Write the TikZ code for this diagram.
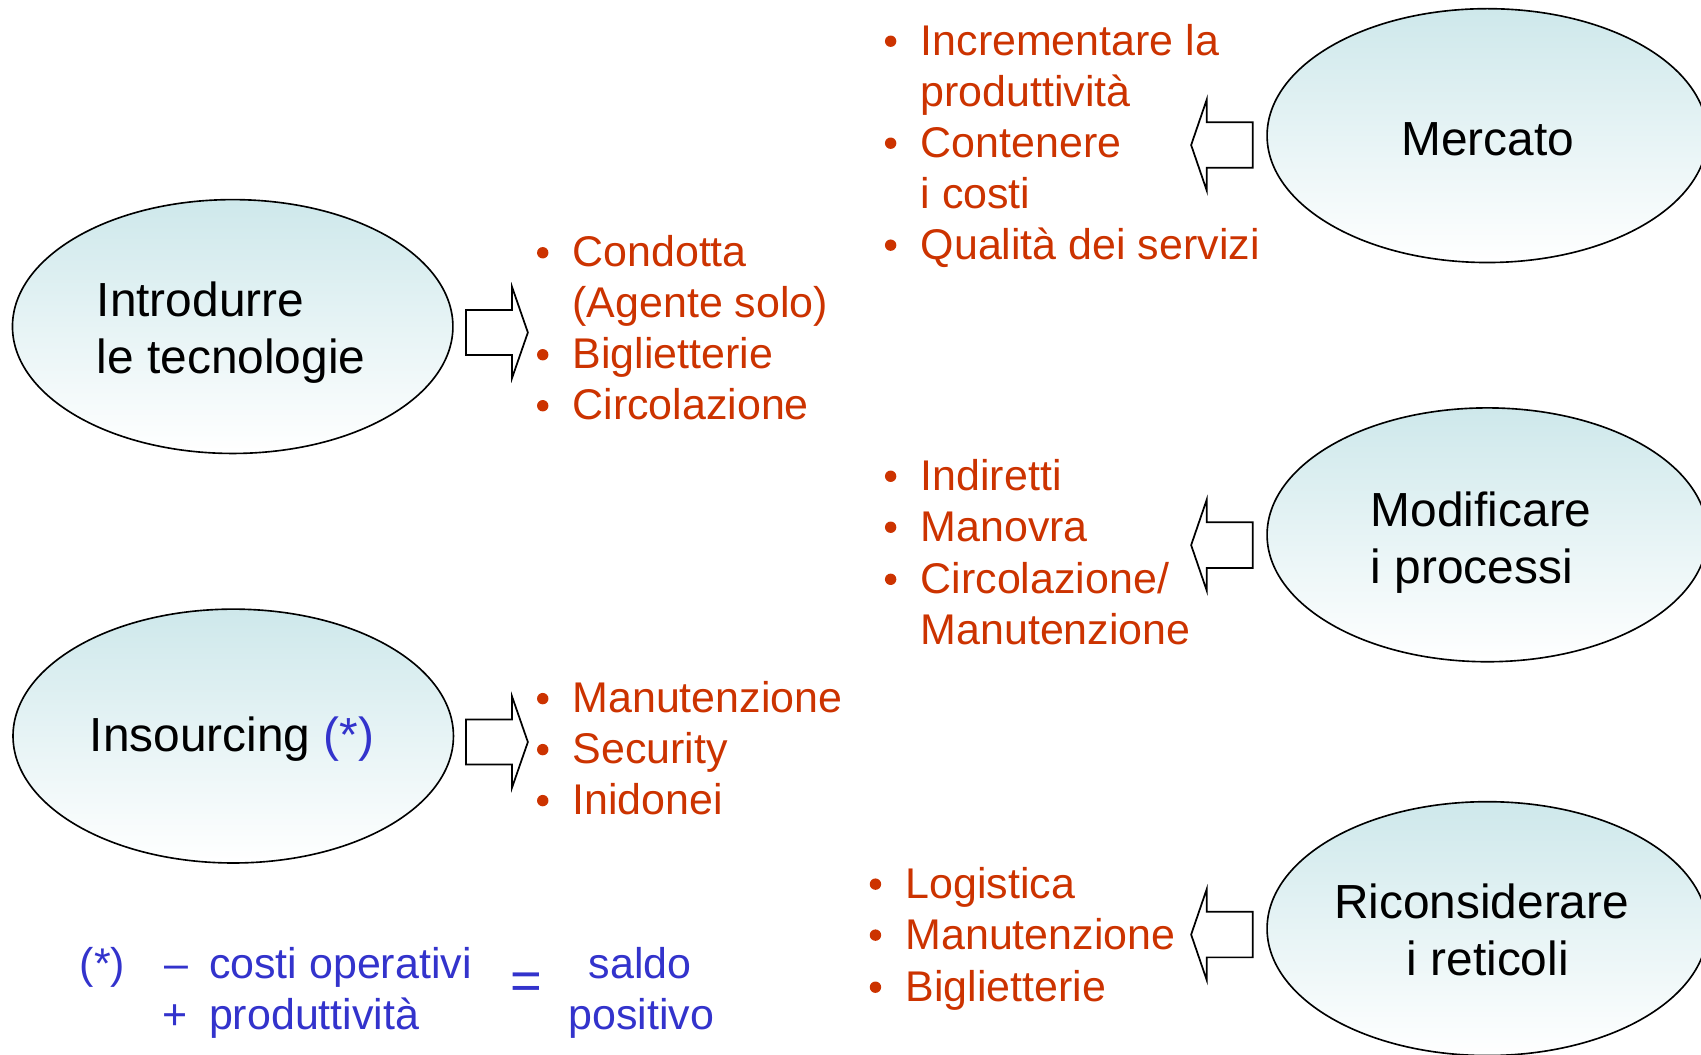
\documentclass[tikz,border=0pt]{standalone}
\usepackage{fontspec}
\setmainfont{Liberation Sans}
\usetikzlibrary{shapes.geometric}
\definecolor{rd}{RGB}{204,51,0}
\definecolor{bl}{RGB}{51,51,204}
\definecolor{ellfill}{RGB}{206,232,235}
\tikzset{
  oval/.style={ellipse, draw=black, line width=1.5pt, minimum width=406pt, minimum height=234pt, inner sep=0pt, top color=ellfill, bottom color=white},
  big/.style={font=\fontsize{44.1}{52.6}\selectfont, inner sep=0pt, anchor=base west},
  item/.style={font=\fontsize{39.6}{47}\selectfont, text=rd, inner sep=0pt, anchor=base west},
  dot/.style={circle, fill=rd, inner sep=0pt, minimum size=10.5pt},
  blk/.style={draw=black, line width=1.6pt, fill=white, line join=miter},
  formula/.style={font=\fontsize{39.6}{47}\selectfont, text=bl, inner sep=0pt},
  rarrow/.pic={\draw[blk] (0,-20.75) -- (42.4,-20.75) -- (42.4,-42) -- (57,0) -- (42.4,42) -- (42.4,20.75) -- (0,20.75) -- cycle;},
  larrow/.pic={\draw[blk] (0,0) -- (14.4,-42) -- (14.4,-21) -- (56.8,-21) -- (56.8,21) -- (14.4,21) -- (14.4,42) -- cycle;}
}
\begin{document}
\begin{tikzpicture}[x=1pt,y=-1pt]
\useasboundingbox[fill=white] (0,0) rectangle (1568,972);

% ellipses
\node[oval] (tec) at (214.5,301) {};
\node[oval] (ins) at (215,678.5) {};
\node[oval] (mer) at (1371,125) {};
\node[oval] (mod) at (1371,493) {};
\node[oval] (ric) at (1371,856) {};

% ellipse texts
\node[big] (tecA) at (89,292) {Introdurre};
\node[big] (tecB) at (89,344.6) {le tecnologie};
\node[big] (insA) at (82.5,693) {Insourcing {\color{bl}(*)}};
\node[big] (merA) at (1291.5,143) {Mercato};
\node[big] (modA) at (1263.5,485) {Modificare};
\node[big] (modB) at (1263.5,537.6) {i processi};
\node[big] (ricA) at (1229.5,847) {Riconsiderare};
\node[big] (ricB) at (1296.5,899.3) {i reticoli};

% block arrows
\pic at (429.6,306.5) {rarrow};
\pic at (429.6,684) {rarrow};
\pic at (1098,133.7) {larrow};
\pic at (1098,502.5) {larrow};
\pic at (1098,861.5) {larrow};

% list A
\node[dot] (a1d) at (500.3,233) {};
\node[item] (a1) at (527.5,246) {Condotta};
\node[item] (a2) at (527.5,293) {(Agente solo)};
\node[dot] (a3d) at (500.3,327) {};
\node[item] (a3) at (527.5,340) {Biglietterie};
\node[dot] (a4d) at (500.3,374) {};
\node[item] (a4) at (527.5,387) {Circolazione};

% list B
\node[dot] (b1d) at (821,38) {};
\node[item] (b1) at (848.5,51) {Incrementare la};
\node[item] (b2) at (848.5,98) {produttività};
\node[dot] (b3d) at (821,132) {};
\node[item] (b3) at (848.5,145) {Contenere};
\node[item] (b4) at (848.5,192) {i costi};
\node[dot] (b5d) at (821,226) {};
\node[item] (b5) at (848.5,239) {Qualità dei servizi};

% list C
\node[dot] (c1d) at (821,439) {};
\node[item] (c1) at (848.5,452) {Indiretti};
\node[dot] (c2d) at (821,486) {};
\node[item] (c2) at (848.5,499) {Manovra};
\node[dot] (c3d) at (821,534) {};
\node[item] (c3) at (848.5,547) {Circolazione/};
\node[item] (c4) at (848.5,594) {Manutenzione};

% list D
\node[dot] (d1d) at (500.3,644) {};
\node[item] (d1) at (527.5,657) {Manutenzione};
\node[dot] (d2d) at (500.3,691) {};
\node[item] (d2) at (527.5,704) {Security};
\node[dot] (d3d) at (500.3,738) {};
\node[item] (d3) at (527.5,751) {Inidonei};

% list E
\node[dot] (e1d) at (807,815) {};
\node[item] (e1) at (834.5,828) {Logistica};
\node[dot] (e2d) at (807,862) {};
\node[item] (e2) at (834.5,875) {Manutenzione};
\node[dot] (e3d) at (807,910) {};
\node[item] (e3) at (834.5,923) {Biglietterie};

% formula
\node[formula, anchor=base west] (ast) at (73.5,902) {(*)};
\node[formula, anchor=base west] (minus) at (151,902) {–};
\node[formula, anchor=base west] (f1) at (192.5,902) {costi operativi};
\node[formula, anchor=base west] (plus) at (149.5,949) {+};
\node[formula, anchor=base west] (f2) at (192.5,949) {produttività};
\node[formula, font=\fontsize{50}{50}\selectfont] (eq) at (485,909) {=};
\node[formula, anchor=base] (s1) at (590,902) {saldo};
\node[formula, anchor=base] (s2) at (591,949) {positivo};
\end{tikzpicture}
\end{document}
